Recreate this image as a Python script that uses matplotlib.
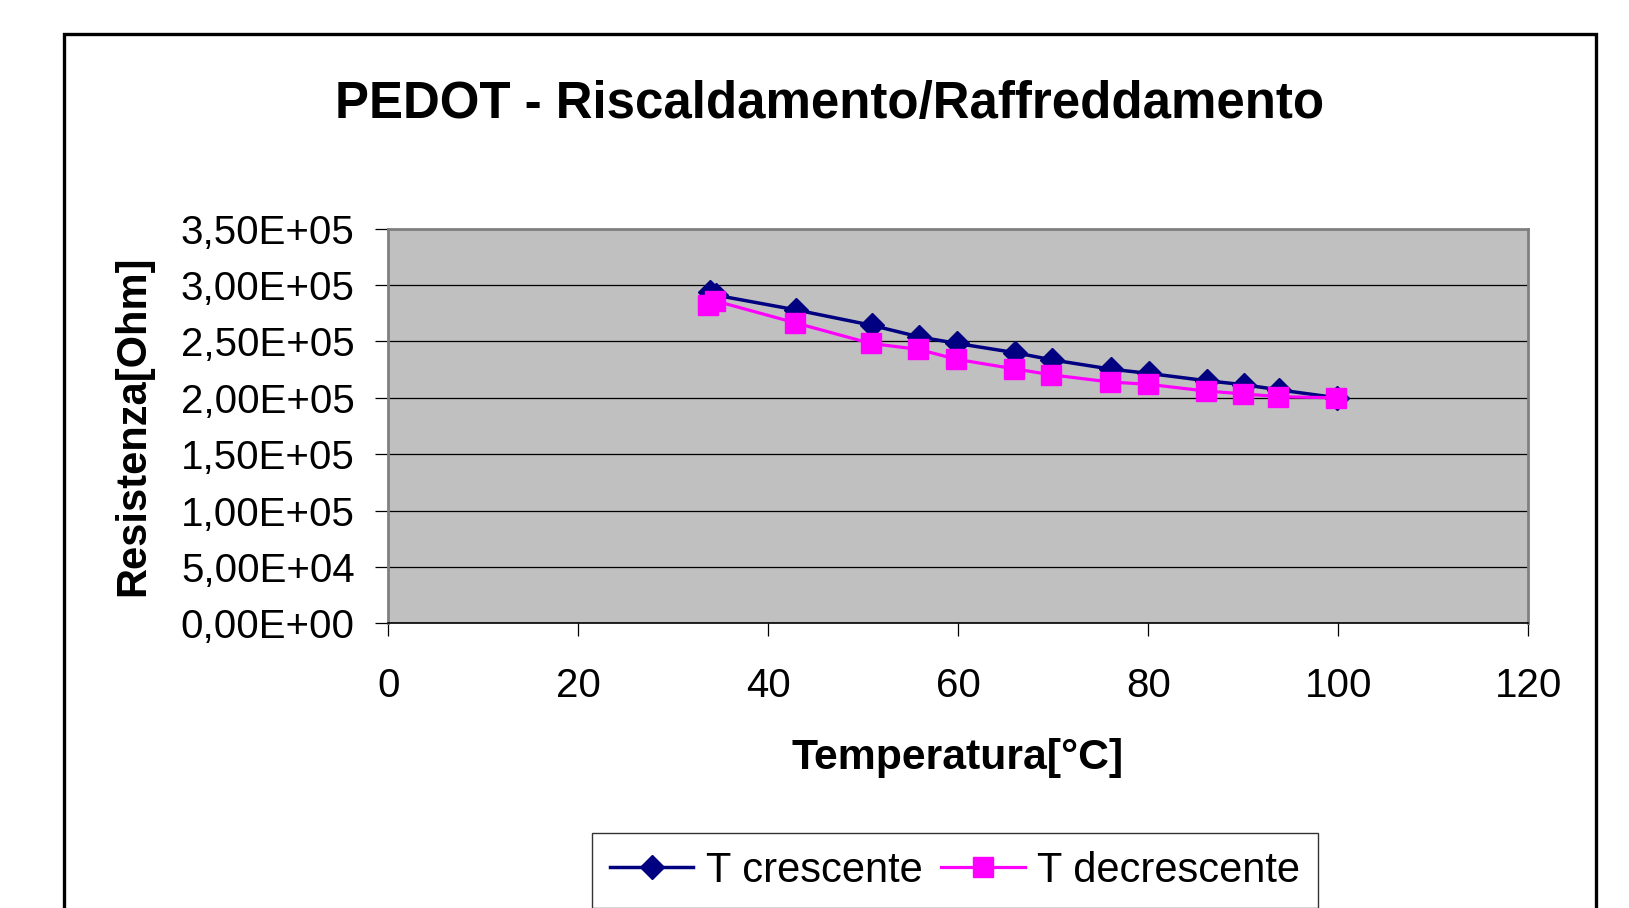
#!/usr/bin/env python
"""
PEDOT resistance vs temperature, heating and cooling.
"""

import matplotlib
matplotlib.use("Agg")
import matplotlib.pyplot as plt
from matplotlib.patches import Rectangle
from matplotlib.ticker import FuncFormatter, MultipleLocator

# heating (T crescente)
temp_up = [33.9, 34.5, 42.9, 50.9, 55.9, 59.9, 66.0, 69.9, 76.1, 80.1,
           86.2, 90.1, 93.8, 99.9]
res_up = [2.94e5, 2.91e5, 2.78e5, 2.643e5, 2.54e5, 2.482e5, 2.40e5,
          2.336e5, 2.254e5, 2.216e5, 2.151e5, 2.116e5, 2.07e5, 2.0e5]

# cooling (T decrescente)
temp_down = [33.7, 34.4, 42.8, 50.8, 55.8, 59.8, 65.9, 69.8, 76.0, 80.0,
             86.1, 90.0, 93.7, 99.8]
res_down = [2.825e5, 2.86e5, 2.666e5, 2.482e5, 2.43e5, 2.342e5, 2.257e5,
            2.204e5, 2.14e5, 2.12e5, 2.06e5, 2.035e5, 2.01e5, 2.0e5]

xticks = [0, 20, 40, 60, 80, 100, 120]

plt.rcParams["font.family"] = ["Liberation Sans", "DejaVu Sans"]

W, H = 1629, 908
fig = plt.figure(figsize=(W / 100, H / 100), dpi=100)

# outer chart frame (bottom runs off the picture)
fig.patches.append(Rectangle((64 / W, -0.05), (1596 - 64) / W,
                             1 - 34 / H + 0.05, transform=fig.transFigure,
                             fill=False, edgecolor="black", linewidth=2.4))

left, right, top, bottom = 388.4, 1528.2, 228.7, 623.3
ax = fig.add_axes([left / W, 1 - bottom / H, (right - left) / W,
                   (bottom - top) / H])
ax.set_facecolor("#C0C0C0")

ax.plot(temp_up, res_up, color="#000080", lw=2.5, marker="D", ms=12,
        label="T crescente", zorder=3)
ax.plot(temp_down, res_down, color="#FF00FF", lw=2.3, marker="s", ms=14.5,
        label="T decrescente", zorder=4)

ax.set_xlim(0, 120)
ax.set_ylim(0, 3.5e5)
ax.set_xticks(xticks)
ax.yaxis.set_major_locator(MultipleLocator(5e4))
ax.yaxis.set_major_formatter(
    FuncFormatter(lambda v, p: "{:.2E}".format(v).replace(".", ",")))
ax.grid(True, axis="y", color="black", lw=0.9)
ax.set_axisbelow(True)

ax.tick_params(axis="both", direction="out", length=9.4, width=0.9,
               labelsize=29, colors="black")
ax.tick_params(axis="y", pad=15)
ax.tick_params(axis="x", pad=22)
for side in ["left", "top", "right"]:
    ax.spines[side].set_color("#808080")
    ax.spines[side].set_linewidth(2)
ax.spines["bottom"].set_color("black")
ax.spines["bottom"].set_linewidth(1.2)

fig.text(830 / W, 1 - 104.5 / H, "PEDOT - Riscaldamento/Raffreddamento",
         fontsize=36.7, fontweight="bold", ha="center", va="center")
fig.text(958 / W, 1 - 758 / H, "Temperatura[°C]", fontsize=30.8,
         fontweight="bold", ha="center", va="center")
fig.text(133 / W, 1 - 426 / H, "Resistenza[Ohm]", fontsize=30,
         fontweight="bold", ha="center", va="center", rotation=90)

leg = fig.legend(loc="upper center", bbox_to_anchor=(955 / W, 1 - 833 / H),
                 ncol=2, fontsize=30, frameon=True, fancybox=False,
                 handlelength=2.0, handletextpad=0.3, columnspacing=0.45,
                 borderpad=0.42, borderaxespad=0)
leg.get_frame().set_edgecolor("black")
leg.get_frame().set_linewidth(1)

plt.savefig("out.png", dpi=100)
